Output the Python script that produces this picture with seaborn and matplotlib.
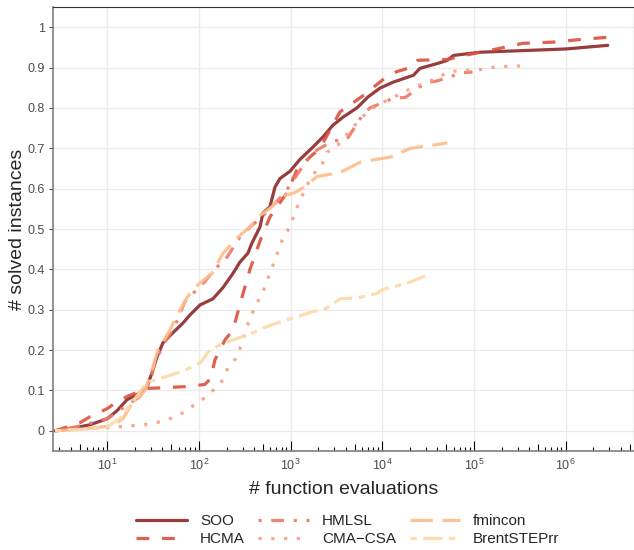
import numpy as np
import pandas as pd
import matplotlib
matplotlib.use("Agg")
import matplotlib.pyplot as plt
import matplotlib.ticker as mticker
import seaborn as sns

# ECDF-like curves (x = # function evaluations)
soo_x = [2.69, 3.92, 6.48, 10, 12.8, 16.4, 22.7, 27.1, 30.7, 34.8, 40.5, 52, 67, 79.8, 103, 142, 183,
         235, 280, 342, 378, 463, 499, 595, 675, 765, 984, 1260, 1750, 2250, 2890, 3720, 5290, 6970,
         9420, 13200, 21900, 25700, 39900, 51300, 59700, 117000, 1e6, 2.88e6]
soo_y = [0, 0.005, 0.015, 0.03, 0.05, 0.077, 0.094, 0.11, 0.143, 0.183, 0.218, 0.243, 0.267, 0.287,
         0.312, 0.327, 0.355, 0.39, 0.418, 0.44, 0.465, 0.505, 0.54, 0.555, 0.604, 0.625, 0.643, 0.672,
         0.703, 0.728, 0.757, 0.777, 0.80, 0.827, 0.849, 0.864, 0.881, 0.898, 0.91, 0.918, 0.93, 0.938,
         0.946, 0.955]

hcma_x = [2.69, 5.04, 6.48, 10, 12.8, 16.4, 21.1, 27.1, 42.6, 79.8, 116, 135, 149, 192, 235, 294, 360,
          463, 595, 912, 1170, 1620, 2090, 3450, 6140, 7890, 10700, 14400, 20300, 24400, 51300, 91500,
          169000, 341000, 725000, 1.53e6, 2.88e6]
hcma_y = [0, 0.02, 0.035, 0.055, 0.072, 0.085, 0.095, 0.105, 0.107, 0.11, 0.115, 0.13, 0.175, 0.225,
          0.25, 0.33, 0.40, 0.47, 0.53, 0.59, 0.646, 0.678, 0.70, 0.79, 0.83, 0.85, 0.874, 0.89, 0.90,
          0.918, 0.92, 0.933, 0.945, 0.96, 0.963, 0.97, 0.975]

hmlsl_x = [2.69, 5.04, 10, 15.6, 22.7, 29.2, 33.1, 42.6, 54.7, 70.3, 86, 116, 149, 202, 280, 360, 487,
           595, 867, 1260, 1750, 2890, 4110, 6000, 7330, 13200, 17900, 29500, 39900, 74800, 96200]
hmlsl_y = [0, 0.012, 0.03, 0.06, 0.085, 0.12, 0.17, 0.22, 0.26, 0.32, 0.34, 0.37, 0.40, 0.43, 0.48,
           0.505, 0.53, 0.55, 0.59, 0.645, 0.69, 0.718, 0.722, 0.78, 0.80, 0.824, 0.826, 0.862, 0.867,
           0.887, 0.889]

cma_x = [2.69, 10, 17.7, 29.2, 42.6, 62.1, 79.8, 108, 142, 183, 207, 260, 294, 360, 430, 499, 566, 641,
         825, 984, 1110, 1260, 1710, 2190, 2490, 3280, 4780, 6000, 8740, 11600, 21300, 31000, 39900,
         52600, 117000, 157000, 228000, 317000]
cma_y = [0, 0.008, 0.012, 0.017, 0.025, 0.04, 0.057, 0.077, 0.10, 0.126, 0.156, 0.183, 0.218, 0.28,
         0.317, 0.344, 0.378, 0.41, 0.478, 0.505, 0.54, 0.57, 0.633, 0.658, 0.69, 0.708, 0.752, 0.777,
         0.807, 0.82, 0.85, 0.864, 0.874, 0.89, 0.895, 0.90, 0.903, 0.904]

fmin_x = [2.69, 6.98, 11.5, 14.8, 17.7, 21.1, 25.8, 30.7, 35.7, 48.3, 59, 74, 90.4, 108, 139, 183, 266,
          360, 440, 625, 765, 1110, 1430, 1940, 3450, 5700, 7330, 12200, 20300, 51300]
fmin_y = [0, 0.007, 0.013, 0.03, 0.06, 0.075, 0.10, 0.15, 0.20, 0.25, 0.29, 0.33, 0.355, 0.37, 0.39,
          0.44, 0.48, 0.505, 0.53, 0.555, 0.58, 0.59, 0.605, 0.63, 0.64, 0.665, 0.67, 0.678, 0.70, 0.713]

brent_x = [2.69, 6.98, 10, 13.7, 20.1, 27.1, 44.8, 70.3, 103, 132, 169, 235, 388, 530, 912, 1750, 2490,
           3450, 5290, 8740, 10000, 18800, 29500]
brent_y = [0, 0.005, 0.01, 0.03, 0.08, 0.12, 0.135, 0.15, 0.168, 0.2, 0.212, 0.225, 0.243, 0.257,
           0.275, 0.295, 0.304, 0.327, 0.329, 0.34, 0.35, 0.366, 0.384]

algos = ["SOO", "HCMA", "HMLSL", "CMA\u2212CSA", "fmincon", "BrentSTEPrr"]
series = [(soo_x, soo_y), (hcma_x, hcma_y), (hmlsl_x, hmlsl_y), (cma_x, cma_y),
          (fmin_x, fmin_y), (brent_x, brent_y)]

rows = []
for name, (xs, ys) in zip(algos, series):
    for a, b in zip(xs, ys):
        rows.append({"evals": a, "solved": b, "algo": name})
df = pd.DataFrame(rows)

colors = ["#8E2C2C", "#DC5343", "#EF7A68", "#F8A083", "#FDBE8E", "#FDD9AA"]
palette = dict(zip(algos, colors))
dashes = dict(zip(algos, ["", (4, 4), (1, 3, 4, 3), (1, 3), (7, 3), (2, 2, 6, 2)]))

sns.set_style("white")
plt.rcParams["font.family"] = ["Liberation Sans", "DejaVu Sans"]
plt.rcParams["xtick.bottom"] = True
plt.rcParams["ytick.left"] = True

fig = plt.figure(figsize=(6.34, 5.5), dpi=100)
ax = fig.add_axes([53 / 634, 1 - 451 / 550, 580.5 / 634, 444 / 550])

sns.lineplot(data=df, x="evals", y="solved", hue="algo", style="algo", hue_order=algos,
             style_order=algos, palette=palette, dashes=dashes, estimator=None, sort=False,
             linewidth=2.3, alpha=0.92, ax=ax)
for ln in ax.get_lines():
    ln.set_dash_capstyle("butt")

ax.set_xscale("log")
ax.set_xlim(10 ** 0.408, 10 ** 6.74)
ax.set_ylim(-0.05, 1.05)

ax.set_yticks(np.arange(0, 1.01, 0.1))
ax.set_yticklabels(["0"] + ["%.1f" % v for v in np.arange(0.1, 0.95, 0.1)] + ["1"])
ax.xaxis.set_major_locator(mticker.FixedLocator([10 ** k for k in range(1, 7)]))
ax.xaxis.set_major_formatter(mticker.LogFormatterSciNotation())
minor_locs = [m * 10 ** k for k in range(0, 7) for m in range(2, 10)]
minor_locs = [v for v in minor_locs if 10 ** 0.408 < v < 10 ** 6.74]
ax.xaxis.set_minor_locator(mticker.FixedLocator(minor_locs))
ax.xaxis.set_minor_formatter(mticker.NullFormatter())

ax.grid(True, which="major", color="#EBEBEB", linewidth=0.9)
ax.tick_params(axis="x", which="major", bottom=True, direction="in", length=7, width=0.8,
               color="black", labelsize=9, labelcolor="#4D4D4D", pad=5)
ax.tick_params(axis="x", which="minor", bottom=True, direction="in", length=3, width=0.8,
               color="black")
ax.tick_params(axis="y", which="major", left=True, direction="out", length=3, width=0.8,
               color="#4D4D4D", labelsize=9, labelcolor="#4D4D4D", pad=3)

# longer mid-decade log ticks (5 x 10^k)
for t, loc in zip(ax.xaxis.get_minor_ticks(len(minor_locs)), minor_locs):
    if round(loc / 10 ** np.floor(np.log10(loc))) == 5:
        t.tick1line.set_markersize(5)

for side in ["left", "bottom"]:
    ax.spines[side].set_color("#7F7F7F")
    ax.spines[side].set_linewidth(1.2)
for side in ["top", "right"]:
    ax.spines[side].set_color("#333333")
    ax.spines[side].set_linewidth(0.8)

ax.set_xlabel("# function evaluations", fontsize=14, labelpad=6)
ax.set_ylabel("# solved instances", fontsize=14)
ax.yaxis.set_label_coords(-0.047, 0.5)

sns.move_legend(ax, "center", bbox_to_anchor=((348 - 53) / 580.5, (451 - 530) / 444), ncol=3,
                title=None, frameon=False, fontsize=11, handlelength=3.3, handletextpad=0.85,
                columnspacing=0.9, labelspacing=0.25)
for h in ax.get_legend().legend_handles:
    h.set_linewidth(2.3)

fig.savefig("out.png", dpi=100)
